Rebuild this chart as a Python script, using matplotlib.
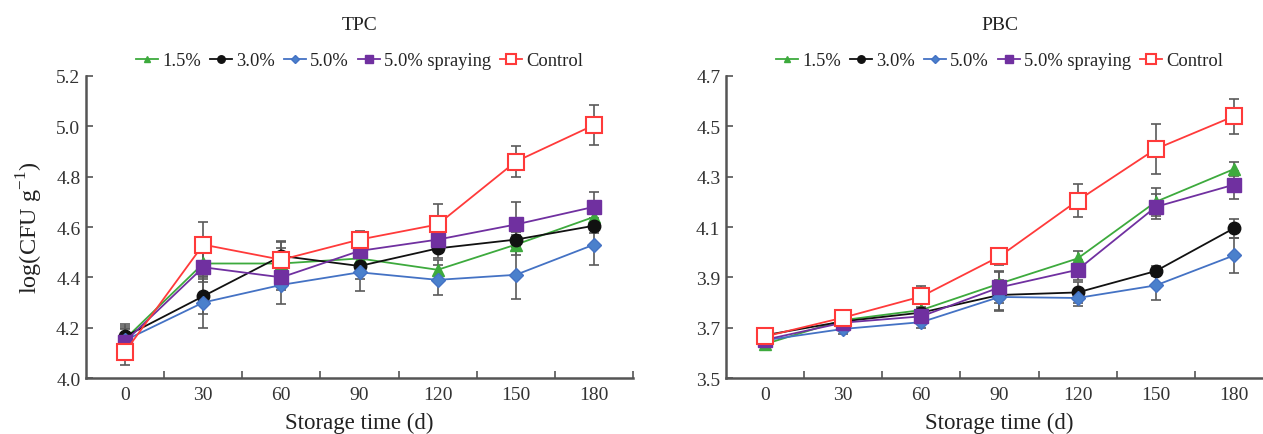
import matplotlib
matplotlib.use('Agg')
import matplotlib.pyplot as plt
import numpy as np

plt.rcParams['font.family'] = ['Liberation Serif', 'DejaVu Serif']

days = [0, 30, 60, 90, 120, 150, 180]
labels = ['1.5%', '3.0%', '5.0%', '5.0% spraying', 'Control']

# TPC, log(CFU/g)
tpc = [
    [4.155, 4.455, 4.455, 4.475, 4.43, 4.53, 4.64],
    [4.165, 4.325, 4.485, 4.445, 4.515, 4.55, 4.605],
    [4.15, 4.30, 4.37, 4.42, 4.39, 4.41, 4.53],
    [4.145, 4.44, 4.40, 4.505, 4.55, 4.61, 4.68],
    [4.105, 4.53, 4.47, 4.55, 4.61, 4.86, 5.005],
]
tpc_err = [
    [0.05, 0.05, 0.06, 0.04, 0.04, 0.04, 0.04],
    [0.05, 0.07, 0.06, 0.05, 0.04, 0.03, 0.03],
    [0.05, 0.10, 0.075, 0.075, 0.06, 0.095, 0.08],
    [0.05, 0.06, 0.05, 0.05, 0.04, 0.09, 0.06],
    [0.055, 0.09, 0.07, 0.035, 0.08, 0.06, 0.08],
]

# PBC, log(CFU/g)
pbc = [
    [3.635, 3.73, 3.77, 3.875, 3.975, 4.20, 4.33],
    [3.67, 3.725, 3.76, 3.83, 3.84, 3.925, 4.095],
    [3.65, 3.695, 3.722, 3.822, 3.818, 3.868, 3.987],
    [3.652, 3.72, 3.745, 3.86, 3.93, 4.18, 4.268],
    [3.665, 3.74, 3.824, 3.983, 4.205, 4.41, 4.54],
]
pbc_err = [
    [0.015, 0.02, 0.025, 0.05, 0.03, 0.055, 0.027],
    [0.015, 0.02, 0.02, 0.06, 0.04, 0.02, 0.037],
    [0.015, 0.02, 0.025, 0.055, 0.03, 0.06, 0.07],
    [0.015, 0.02, 0.03, 0.06, 0.04, 0.05, 0.055],
    [0.02, 0.03, 0.04, 0.035, 0.065, 0.10, 0.07],
]

line_colors = ['#3daa3d', '#111111', '#4472c4', '#7030a0', '#ff3a3a']
marker_colors = ['#3daa3d', '#111111', '#4a80cc', '#7030a0', 'white']
markers = ['^', 'o', 'D', 's', 's']
msizes = [8, 9, 7, 10, 11]
axis_grey = '#555555'


def draw_panel(ax, data, err, title, ylim, yticks):
    for i in range(5):
        ax.errorbar(days, data[i], yerr=err[i], fmt='none', ecolor='#5a5a5a',
                    elinewidth=1.2, capsize=3.5, capthick=1.2, zorder=1)
    for i in range(5):
        ax.plot(days, data[i], color=line_colors[i], lw=1.3, marker=markers[i],
                ms=msizes[i], mfc=marker_colors[i], mec=line_colors[i],
                mew=1.5 if i == 4 else 1.0, label=labels[i], zorder=2 + i)

    ax.set_xlim(-15, 195)
    ax.set_ylim(*ylim)
    ax.set_xticks(days)
    ax.set_xticks(np.arange(15, 200, 30), minor=True)
    ax.set_yticks(yticks)
    ax.set_yticklabels(['%.1f' % v for v in yticks])
    ax.tick_params(axis='x', which='major', length=0, pad=6, labelsize=14, colors='#333333')
    ax.tick_params(axis='x', which='minor', direction='in', length=5, width=1.2, color=axis_grey)
    ax.tick_params(axis='y', direction='in', length=5, width=1.2, color=axis_grey,
                   labelsize=14, labelcolor='#333333', pad=4)
    for s in ['top', 'right']:
        ax.spines[s].set_visible(False)
    for s in ['left', 'bottom']:
        ax.spines[s].set_color(axis_grey)
        ax.spines[s].set_linewidth(1.8)
    ax.set_xlabel('Storage time (d)', fontsize=16.5, color='#222222', labelpad=6)
    ax.set_title(title, fontsize=14, color='#222222', pad=34)
    ax.legend(loc='lower center', bbox_to_anchor=(0.5, 0.985), ncol=5, frameon=False,
              fontsize=13.3, markerscale=0.6, handlelength=1.2, handletextpad=0.2,
              columnspacing=0.5, borderaxespad=0.2, labelcolor='#222222')


fig = plt.figure(figsize=(12.63, 4.35), dpi=100)
ax1 = fig.add_axes([0.0681, 0.1287, 0.4331, 0.6943])
ax2 = fig.add_axes([0.5748, 0.1287, 0.4331, 0.6943])

draw_panel(ax1, tpc, tpc_err, 'TPC', (4.0, 5.2), np.arange(4.0, 5.21, 0.2))
draw_panel(ax2, pbc, pbc_err, 'PBC', (3.5, 4.7), np.arange(3.5, 4.71, 0.2))
ax1.set_ylabel('log(CFU g$^{\\mathregular{-1}}$)', fontsize=17.5, color='#222222', labelpad=8)

fig.savefig('out.png', dpi=100)
